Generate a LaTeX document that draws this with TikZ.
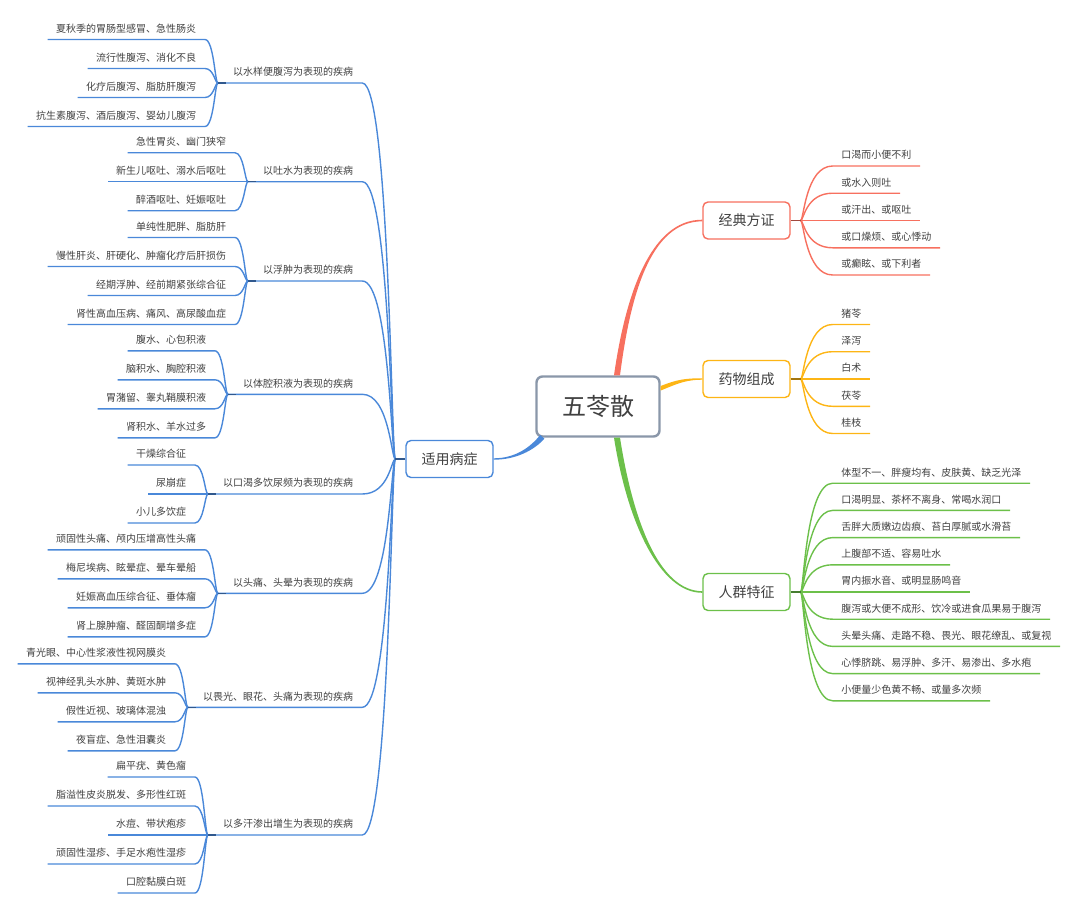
\documentclass[tikz,border=0pt]{standalone}
\usepackage{fontspec}
\setmainfont{Noto Sans CJK SC}
\usepackage{tikz}
\usetikzlibrary{calc}
\definecolor{rootgray}{HTML}{8A97A9}
\definecolor{jdred}{HTML}{F7705F}
\definecolor{ywyellow}{HTML}{FDB515}
\definecolor{rqgreen}{HTML}{6CC04A}
\definecolor{syblue}{HTML}{4A88D9}
\definecolor{txtgray}{HTML}{404040}

\begin{document}
\begin{tikzpicture}[
    x=1pt, y=-1pt,
    root/.style={rectangle, draw=rootgray, line width=2.4pt, rounded corners=6pt, fill=white, minimum width=123pt, minimum height=60pt, text=txtgray, font=\fontsize{24}{28}\selectfont},
    mainbox/.style={rectangle, line width=1.4pt, rounded corners=5pt, fill=white, minimum width=87pt, minimum height=37pt, text=txtgray, font=\fontsize{14}{16}\selectfont},
    catnode/.style={anchor=south east, inner xsep=9pt, inner ysep=5pt, text height=8pt, text depth=2pt, text=txtgray, font=\fontsize{10}{12}\selectfont},
    leafl/.style={anchor=south east, inner xsep=8.5pt, inner ysep=5pt, text height=8pt, text depth=2pt, text=txtgray, font=\fontsize{10}{12}\selectfont},
    leafr/.style={anchor=south west, inner xsep=8.5pt, inner ysep=5pt, text height=8pt, text depth=2pt, text=txtgray, font=\fontsize{10}{12}\selectfont},
    jdline/.style={draw=jdred, line width=1.4pt},
    ywline/.style={draw=ywyellow, line width=1.4pt},
    rqline/.style={draw=rqgreen, line width=1.4pt},
    syline/.style={draw=syblue, line width=1.4pt},
    darkstub/.style={draw=#1!65!black, line width=1.4pt}
]
\useasboundingbox (0,0) rectangle (1080,916);

% 中心节点和四个主题
\node[root] (root) at (598,406.5) {五苓散};
\node[mainbox, draw=jdred] (jd) at (746.5,220.5) {经典方证};
\node[mainbox, draw=ywyellow] (yw) at (746.5,379) {药物组成};
\node[mainbox, draw=rqgreen] (rq) at (746.5,592) {人群特征};
\node[mainbox, draw=syblue] (sy) at (449.5,459) {适用病症};

% 主干(粗细渐变)
\fill[jdred] ($(root.north)+(16,0)$) .. controls ($(root.north)+(27,-77)$) and ($(jd.west)+(-53,-1)$) .. ($(jd.west)+(0,-0.8)$)
    -- ($(jd.west)+(0,0.8)$) .. controls ($(jd.west)+(-53,1)$) and ($(root.north)+(32,-77)$) .. ($(root.north)+(22,0)$) -- cycle;
\fill[ywyellow] ($(root.east)+(0,-20.5)$) .. controls ($(root.east)+(15,-26.5)$) and ($(yw.west)+(-18,-0.8)$) .. ($(yw.west)+(0,-0.7)$)
    -- ($(yw.west)+(0,0.7)$) .. controls ($(yw.west)+(-18,0.8)$) and ($(root.east)+(15,-22)$) .. ($(root.east)+(0,-16)$) -- cycle;
\fill[rqgreen] ($(root.south)+(16,0)$) .. controls ($(root.south)+(29,83)$) and ($(rq.west)+(-43,1)$) .. ($(rq.west)+(0,0.8)$)
    -- ($(rq.west)+(0,-0.8)$) .. controls ($(rq.west)+(-43,-1)$) and ($(root.south)+(35,83)$) .. ($(root.south)+(22,0)$) -- cycle;
\fill[syblue] ($(root.south west)+(9,1)$) .. controls ($(root.south west)+(-1,12.5)$) and ($(sy.east)+(22,0.8)$) .. ($(sy.east)+(0,0.7)$)
    -- ($(sy.east)+(0,-0.7)$) .. controls ($(sy.east)+(22,-0.8)$) and ($(root.south west)+(-5,9.5)$) .. ($(root.south west)+(5,-2.8)$) -- cycle;

\coordinate (jds) at ([xshift=10pt]jd.east);
\coordinate (yws) at ([xshift=10pt]yw.east);
\coordinate (rqs) at ([xshift=10pt]rq.east);
\coordinate (sys) at ([xshift=-10pt]sy.west);

% 经典方证
\node[leafr] (jd1) at ($(jds)+(32,-54.5)$) {口渴而小便不利};
\node[leafr] (jd2) at ($(jds)+(32,-27.3)$) {或水入则吐};
\node[leafr] (jd3) at ($(jds)+(32,0)$) {或汗出、或呕吐};
\node[leafr] (jd4) at ($(jds)+(32,27.3)$) {或口燥烦、或心悸动};
\node[leafr] (jd5) at ($(jds)+(32,54.5)$) {或癫眩、或下利者};
\draw[jdline] (jds) .. controls +(3,0) and +(-27,0) .. (jd1.south west) -- (jd1.south east);
\draw[jdline] (jds) .. controls +(3,0) and +(-27,0) .. (jd2.south west) -- (jd2.south east);
\draw[jdline] (jds) .. controls +(3,0) and +(-27,0) .. (jd3.south west) -- (jd3.south east);
\draw[jdline] (jds) .. controls +(3,0) and +(-27,0) .. (jd4.south west) -- (jd4.south east);
\draw[jdline] (jds) .. controls +(3,0) and +(-27,0) .. (jd5.south west) -- (jd5.south east);
\draw[darkstub=jdred] (jd.east) -- (jds);

% 药物组成
\node[leafr] (yw1) at ($(yws)+(32,-54.5)$) {猪苓};
\node[leafr] (yw2) at ($(yws)+(32,-27.3)$) {泽泻};
\node[leafr] (yw3) at ($(yws)+(32,0)$) {白术};
\node[leafr] (yw4) at ($(yws)+(32,27.3)$) {茯苓};
\node[leafr] (yw5) at ($(yws)+(32,54.5)$) {桂枝};
\draw[ywline] (yws) .. controls +(3,0) and +(-27,0) .. (yw1.south west) -- (yw1.south east);
\draw[ywline] (yws) .. controls +(3,0) and +(-27,0) .. (yw2.south west) -- (yw2.south east);
\draw[ywline] (yws) .. controls +(3,0) and +(-27,0) .. (yw3.south west) -- (yw3.south east);
\draw[ywline] (yws) .. controls +(3,0) and +(-27,0) .. (yw4.south west) -- (yw4.south east);
\draw[ywline] (yws) .. controls +(3,0) and +(-27,0) .. (yw5.south west) -- (yw5.south east);
\draw[darkstub=ywyellow] (yw.east) -- (yws);

% 人群特征
\node[leafr] (rq1) at ($(rqs)+(32,-108.8)$) {体型不一、胖瘦均有、皮肤黄、缺乏光泽};
\node[leafr] (rq2) at ($(rqs)+(32,-81.6)$) {口渴明显、茶杯不离身、常喝水润口};
\node[leafr] (rq3) at ($(rqs)+(32,-54.4)$) {舌胖大质嫩边齿痕、苔白厚腻或水滑苔};
\node[leafr] (rq4) at ($(rqs)+(32,-27.2)$) {上腹部不适、容易吐水};
\node[leafr] (rq5) at ($(rqs)+(32,0)$) {胃内振水音、或明显肠鸣音};
\node[leafr] (rq6) at ($(rqs)+(32,27.2)$) {腹泻或大便不成形、饮冷或进食瓜果易于腹泻};
\node[leafr] (rq7) at ($(rqs)+(32,54.4)$) {头晕头痛、走路不稳、畏光、眼花缭乱、或复视};
\node[leafr] (rq8) at ($(rqs)+(32,81.6)$) {心悸脐跳、易浮肿、多汗、易渗出、多水疱};
\node[leafr] (rq9) at ($(rqs)+(32,108.8)$) {小便量少色黄不畅、或量多次频};
\draw[rqline] (rqs) .. controls +(3,0) and +(-27,0) .. (rq1.south west) -- (rq1.south east);
\draw[rqline] (rqs) .. controls +(3,0) and +(-27,0) .. (rq2.south west) -- (rq2.south east);
\draw[rqline] (rqs) .. controls +(3,0) and +(-27,0) .. (rq3.south west) -- (rq3.south east);
\draw[rqline] (rqs) .. controls +(3,0) and +(-27,0) .. (rq4.south west) -- (rq4.south east);
\draw[rqline] (rqs) .. controls +(3,0) and +(-27,0) .. (rq5.south west) -- (rq5.south east);
\draw[rqline] (rqs) .. controls +(3,0) and +(-27,0) .. (rq6.south west) -- (rq6.south east);
\draw[rqline] (rqs) .. controls +(3,0) and +(-27,0) .. (rq7.south west) -- (rq7.south east);
\draw[rqline] (rqs) .. controls +(3,0) and +(-27,0) .. (rq8.south west) -- (rq8.south east);
\draw[rqline] (rqs) .. controls +(3,0) and +(-27,0) .. (rq9.south west) -- (rq9.south east);
\draw[darkstub=rqgreen] (rq.east) -- (rqs);

% 适用病症:八个分类
\node[catnode] (c1) at ($(sys)+(-33,-376)$) {以水样便腹泻为表现的疾病};
\node[catnode] (c2) at ($(sys)+(-33,-277.3)$) {以吐水为表现的疾病};
\node[catnode] (c3) at ($(sys)+(-33,-178)$) {以浮肿为表现的疾病};
\node[catnode] (c4) at ($(sys)+(-33,-64.7)$) {以体腔积液为表现的疾病};
\node[catnode] (c5) at ($(sys)+(-33,35)$) {以口渴多饮尿频为表现的疾病};
\node[catnode] (c6) at ($(sys)+(-33,134.3)$) {以头痛、头晕为表现的疾病};
\node[catnode] (c7) at ($(sys)+(-33,248.3)$) {以畏光、眼花、头痛为表现的疾病};
\node[catnode] (c8) at ($(sys)+(-33,376)$) {以多汗渗出增生为表现的疾病};
\coordinate (c1s) at ([xshift=-6pt]c1.south west);
\coordinate (c2s) at ([xshift=-6pt]c2.south west);
\coordinate (c3s) at ([xshift=-6pt]c3.south west);
\coordinate (c4s) at ([xshift=-6pt]c4.south west);
\coordinate (c5s) at ([xshift=-6pt]c5.south west);
\coordinate (c6s) at ([xshift=-6pt]c6.south west);
\coordinate (c7s) at ([xshift=-6pt]c7.south west);
\coordinate (c8s) at ([xshift=-6pt]c8.south west);
\draw[syline] (sys) .. controls +(-4,0) and +(27,0) .. (c1.south east) -- (c1s);
\draw[syline] (sys) .. controls +(-4,0) and +(27,0) .. (c2.south east) -- (c2s);
\draw[syline] (sys) .. controls +(-4,0) and +(27,0) .. (c3.south east) -- (c3s);
\draw[syline] (sys) .. controls +(-4,0) and +(27,0) .. (c4.south east) -- (c4s);
\draw[syline] (sys) .. controls +(-4,0) and +(27,0) .. (c5.south east) -- (c5s);
\draw[syline] (sys) .. controls +(-4,0) and +(27,0) .. (c6.south east) -- (c6s);
\draw[syline] (sys) .. controls +(-4,0) and +(27,0) .. (c7.south east) -- (c7s);
\draw[syline] (sys) .. controls +(-4,0) and +(27,0) .. (c8.south east) -- (c8s);
\draw[darkstub=syblue] (sy.west) -- (sys);

% 以水样便腹泻为表现的疾病
\node[leafl] (c1-1) at ($(c1s)+(-13,-43.5)$) {夏秋季的胃肠型感冒、急性肠炎};
\node[leafl] (c1-2) at ($(c1s)+(-13,-14.5)$) {流行性腹泻、消化不良};
\node[leafl] (c1-3) at ($(c1s)+(-13,14.5)$) {化疗后腹泻、脂肪肝腹泻};
\node[leafl] (c1-4) at ($(c1s)+(-13,43.5)$) {抗生素腹泻、酒后腹泻、婴幼儿腹泻};
\draw[syline] (c1s) .. controls +(-3,0) and +(9,0) .. (c1-1.south east) -- (c1-1.south west);
\draw[syline] (c1s) .. controls +(-3,0) and +(9,0) .. (c1-2.south east) -- (c1-2.south west);
\draw[syline] (c1s) .. controls +(-3,0) and +(9,0) .. (c1-3.south east) -- (c1-3.south west);
\draw[syline] (c1s) .. controls +(-3,0) and +(9,0) .. (c1-4.south east) -- (c1-4.south west);
\draw[darkstub=syblue] (c1s) -- +(8,0);

% 以吐水为表现的疾病
\node[leafl] (c2-1) at ($(c2s)+(-13,-29)$) {急性胃炎、幽门狭窄};
\node[leafl] (c2-2) at ($(c2s)+(-13,0)$) {新生儿呕吐、溺水后呕吐};
\node[leafl] (c2-3) at ($(c2s)+(-13,29)$) {醉酒呕吐、妊娠呕吐};
\draw[syline] (c2s) .. controls +(-3,0) and +(9,0) .. (c2-1.south east) -- (c2-1.south west);
\draw[syline] (c2s) -- (c2-2.south east) -- (c2-2.south west);
\draw[syline] (c2s) .. controls +(-3,0) and +(9,0) .. (c2-3.south east) -- (c2-3.south west);
\draw[darkstub=syblue] (c2s) -- +(8,0);

% 以浮肿为表现的疾病
\node[leafl] (c3-1) at ($(c3s)+(-13,-43.5)$) {单纯性肥胖、脂肪肝};
\node[leafl] (c3-2) at ($(c3s)+(-13,-14.5)$) {慢性肝炎、肝硬化、肿瘤化疗后肝损伤};
\node[leafl] (c3-3) at ($(c3s)+(-13,14.5)$) {经期浮肿、经前期紧张综合征};
\node[leafl] (c3-4) at ($(c3s)+(-13,43.5)$) {肾性高血压病、痛风、高尿酸血症};
\draw[syline] (c3s) .. controls +(-3,0) and +(9,0) .. (c3-1.south east) -- (c3-1.south west);
\draw[syline] (c3s) .. controls +(-3,0) and +(9,0) .. (c3-2.south east) -- (c3-2.south west);
\draw[syline] (c3s) .. controls +(-3,0) and +(9,0) .. (c3-3.south east) -- (c3-3.south west);
\draw[syline] (c3s) .. controls +(-3,0) and +(9,0) .. (c3-4.south east) -- (c3-4.south west);
\draw[darkstub=syblue] (c3s) -- +(8,0);

% 以体腔积液为表现的疾病
\node[leafl] (c4-1) at ($(c4s)+(-13,-43.5)$) {腹水、心包积液};
\node[leafl] (c4-2) at ($(c4s)+(-13,-14.5)$) {脑积水、胸腔积液};
\node[leafl] (c4-3) at ($(c4s)+(-13,14.5)$) {胃潴留、睾丸鞘膜积液};
\node[leafl] (c4-4) at ($(c4s)+(-13,43.5)$) {肾积水、羊水过多};
\draw[syline] (c4s) .. controls +(-3,0) and +(9,0) .. (c4-1.south east) -- (c4-1.south west);
\draw[syline] (c4s) .. controls +(-3,0) and +(9,0) .. (c4-2.south east) -- (c4-2.south west);
\draw[syline] (c4s) .. controls +(-3,0) and +(9,0) .. (c4-3.south east) -- (c4-3.south west);
\draw[syline] (c4s) .. controls +(-3,0) and +(9,0) .. (c4-4.south east) -- (c4-4.south west);
\draw[darkstub=syblue] (c4s) -- +(8,0);

% 以口渴多饮尿频为表现的疾病
\node[leafl] (c5-1) at ($(c5s)+(-13,-29)$) {干燥综合征};
\node[leafl] (c5-2) at ($(c5s)+(-13,0)$) {尿崩症};
\node[leafl] (c5-3) at ($(c5s)+(-13,29)$) {小儿多饮症};
\draw[syline] (c5s) .. controls +(-3,0) and +(9,0) .. (c5-1.south east) -- (c5-1.south west);
\draw[syline] (c5s) -- (c5-2.south east) -- (c5-2.south west);
\draw[syline] (c5s) .. controls +(-3,0) and +(9,0) .. (c5-3.south east) -- (c5-3.south west);
\draw[darkstub=syblue] (c5s) -- +(8,0);

% 以头痛、头晕为表现的疾病
\node[leafl] (c6-1) at ($(c6s)+(-13,-43.5)$) {顽固性头痛、颅内压增高性头痛};
\node[leafl] (c6-2) at ($(c6s)+(-13,-14.5)$) {梅尼埃病、眩晕症、晕车晕船};
\node[leafl] (c6-3) at ($(c6s)+(-13,14.5)$) {妊娠高血压综合征、垂体瘤};
\node[leafl] (c6-4) at ($(c6s)+(-13,43.5)$) {肾上腺肿瘤、醛固酮增多症};
\draw[syline] (c6s) .. controls +(-3,0) and +(9,0) .. (c6-1.south east) -- (c6-1.south west);
\draw[syline] (c6s) .. controls +(-3,0) and +(9,0) .. (c6-2.south east) -- (c6-2.south west);
\draw[syline] (c6s) .. controls +(-3,0) and +(9,0) .. (c6-3.south east) -- (c6-3.south west);
\draw[syline] (c6s) .. controls +(-3,0) and +(9,0) .. (c6-4.south east) -- (c6-4.south west);
\draw[darkstub=syblue] (c6s) -- +(8,0);

% 以畏光、眼花、头痛为表现的疾病
\node[leafl] (c7-1) at ($(c7s)+(-13,-43.5)$) {青光眼、中心性浆液性视网膜炎};
\node[leafl] (c7-2) at ($(c7s)+(-13,-14.5)$) {视神经乳头水肿、黄斑水肿};
\node[leafl] (c7-3) at ($(c7s)+(-13,14.5)$) {假性近视、玻璃体混浊};
\node[leafl] (c7-4) at ($(c7s)+(-13,43.5)$) {夜盲症、急性泪囊炎};
\draw[syline] (c7s) .. controls +(-3,0) and +(9,0) .. (c7-1.south east) -- (c7-1.south west);
\draw[syline] (c7s) .. controls +(-3,0) and +(9,0) .. (c7-2.south east) -- (c7-2.south west);
\draw[syline] (c7s) .. controls +(-3,0) and +(9,0) .. (c7-3.south east) -- (c7-3.south west);
\draw[syline] (c7s) .. controls +(-3,0) and +(9,0) .. (c7-4.south east) -- (c7-4.south west);
\draw[darkstub=syblue] (c7s) -- +(8,0);

% 以多汗渗出增生为表现的疾病
\node[leafl] (c8-1) at ($(c8s)+(-13,-58)$) {扁平疣、黄色瘤};
\node[leafl] (c8-2) at ($(c8s)+(-13,-29)$) {脂溢性皮炎脱发、多形性红斑};
\node[leafl] (c8-3) at ($(c8s)+(-13,0)$) {水痘、带状疱疹};
\node[leafl] (c8-4) at ($(c8s)+(-13,29)$) {顽固性湿疹、手足水疱性湿疹};
\node[leafl] (c8-5) at ($(c8s)+(-13,58)$) {口腔黏膜白斑};
\draw[syline] (c8s) .. controls +(-3,0) and +(9,0) .. (c8-1.south east) -- (c8-1.south west);
\draw[syline] (c8s) .. controls +(-3,0) and +(9,0) .. (c8-2.south east) -- (c8-2.south west);
\draw[syline] (c8s) -- (c8-3.south east) -- (c8-3.south west);
\draw[syline] (c8s) .. controls +(-3,0) and +(9,0) .. (c8-4.south east) -- (c8-4.south west);
\draw[syline] (c8s) .. controls +(-3,0) and +(9,0) .. (c8-5.south east) -- (c8-5.south west);
\draw[darkstub=syblue] (c8s) -- +(8,0);

\end{tikzpicture}
\end{document}
